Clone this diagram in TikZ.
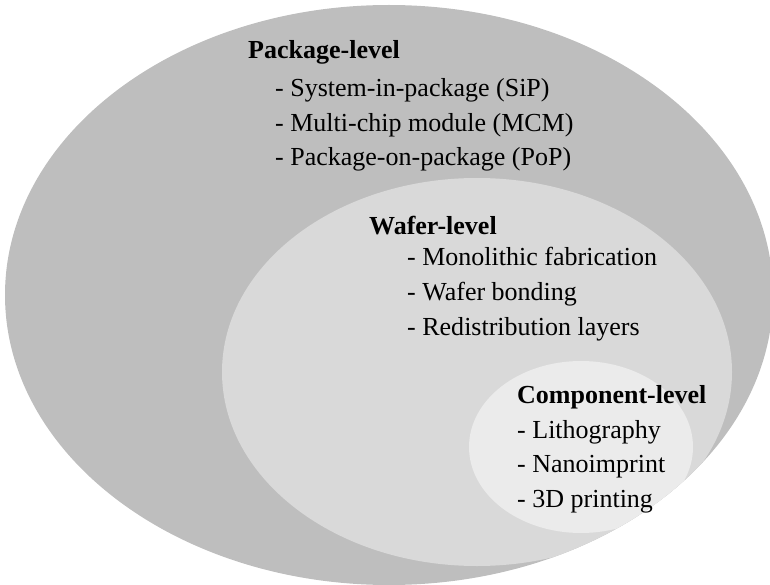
\documentclass[tikz,border=0pt]{standalone}
\usepackage{fontspec}
\setmainfont{Liberation Serif}
\definecolor{outerfill}{RGB}{190,190,190}
\definecolor{middlefill}{RGB}{217,217,217}
\definecolor{innerfill}{RGB}{235,235,235}
\tikzset{
  level/.style={anchor=base west, inner sep=0pt, font=\fontsize{26bp}{30bp}\selectfont\bfseries},
  item/.style={anchor=base west, inner sep=0pt, font=\fontsize{26bp}{30bp}\selectfont}
}
\begin{document}
\begin{tikzpicture}[x=1bp, y=-1bp]
  \useasboundingbox (0,0) rectangle (770,585);
  % package level (outer region)
  \fill[outerfill] (389,295) ellipse [x radius=384, y radius=290];
  \begin{scope}
    \clip (389,295) ellipse [x radius=384, y radius=290];
    % wafer level
    \fill[middlefill] (477,372) ellipse [x radius=255, y radius=194];
    % component level
    \fill[innerfill] (581,447) ellipse [x radius=112, y radius=86];
  \end{scope}

  \node[level] (pkg) at (248,59) {Package-level};
  \node[item] (pkg1) at (275,97) {- System-in-package (SiP)};
  \node[item] (pkg2) at (275,132) {- Multi-chip module (MCM)};
  \node[item] (pkg3) at (275,166) {- Package-on-package (PoP)};

  \node[level] (waf) at (369,234) {Wafer-level};
  \node[item] (waf1) at (407,265) {- Monolithic fabrication};
  \node[item] (waf2) at (407,300) {- Wafer bonding};
  \node[item] (waf3) at (407,335) {- Redistribution layers};

  \node[level] (cmp) at (517,403) {Component-level};
  \node[item] (cmp1) at (517,438) {- Lithography};
  \node[item] (cmp2) at (517,472) {- Nanoimprint};
  \node[item] (cmp3) at (517,507) {- 3D printing};
\end{tikzpicture}
\end{document}
